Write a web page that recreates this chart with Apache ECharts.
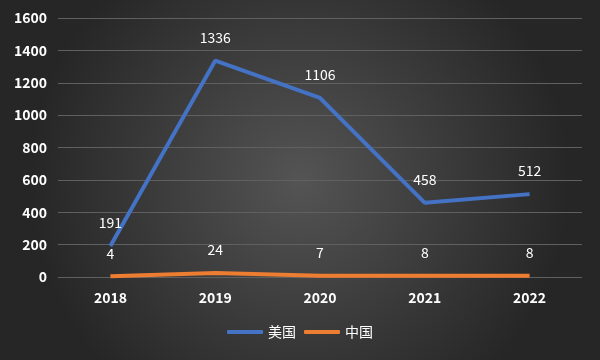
<!DOCTYPE html>
<html><head><meta charset="utf-8">
<script src="https://cdn.jsdelivr.net/npm/echarts@6/dist/echarts.min.js"></script>
<style>html,body{margin:0;padding:0;}#c{width:600px;height:360px;}</style>
</head><body><div id="c"></div>
<script>
const categories = ['2018','2019','2020','2021','2022'];
const usValues = [191, 1336, 1106, 458, 512];
const cnValues = [4, 24, 7, 8, 8];
const seriesNames = ['美国','中国'];
const yTicks = {min:0, max:1600, interval:200};

const chart = echarts.init(document.getElementById('c'));
const font = '"Noto Sans CJK SC", "Noto Sans", sans-serif';
const lbl = {show:true, position:'top', distance:16, color:'#ffffff', fontSize:14, fontFamily:font};
chart.setOption({
  backgroundColor: {
    type:'radial', x:0.5, y:0.5, r:0.75,
    colorStops:[{offset:0,color:'#545454'},{offset:1,color:'#262626'}]
  },
  textStyle:{fontFamily:font},
  grid:{left:58, right:18, top:18, bottom:83},
  legend:{
    bottom:16, left:'center', itemWidth:36, itemHeight:4, itemGap:8,
    icon:'roundRect',
    textStyle:{color:'#ffffff', fontSize:14, fontFamily:font},
    data:seriesNames
  },
  xAxis:{
    type:'category', data:categories, boundaryGap:true,
    axisLine:{show:false}, axisTick:{show:false},
    axisLabel:{color:'#ffffff', fontSize:14, fontWeight:'bold', margin:14, fontFamily:font}
  },
  yAxis:{
    type:'value', min:yTicks.min, max:yTicks.max, interval:yTicks.interval,
    axisLine:{show:false}, axisTick:{show:false},
    axisLabel:{color:'#ffffff', fontSize:14, fontWeight:'bold', margin:11, fontFamily:font,
      formatter:function(v){return String(v);}},
    splitLine:{lineStyle:{color:'#606060', width:1}}
  },
  series:[
    {name:seriesNames[0], type:'line', data:usValues, symbol:'circle', symbolSize:0.1, showSymbol:true,
     lineStyle:{color:'#4472C4', width:4}, itemStyle:{color:'#4472C4'},
     label:lbl},
    {name:seriesNames[1], type:'line', data:cnValues, symbol:'circle', symbolSize:0.1, showSymbol:true,
     lineStyle:{color:'#ED7D31', width:4}, itemStyle:{color:'#ED7D31'},
     label:lbl}
  ]
});
</script></body></html>
